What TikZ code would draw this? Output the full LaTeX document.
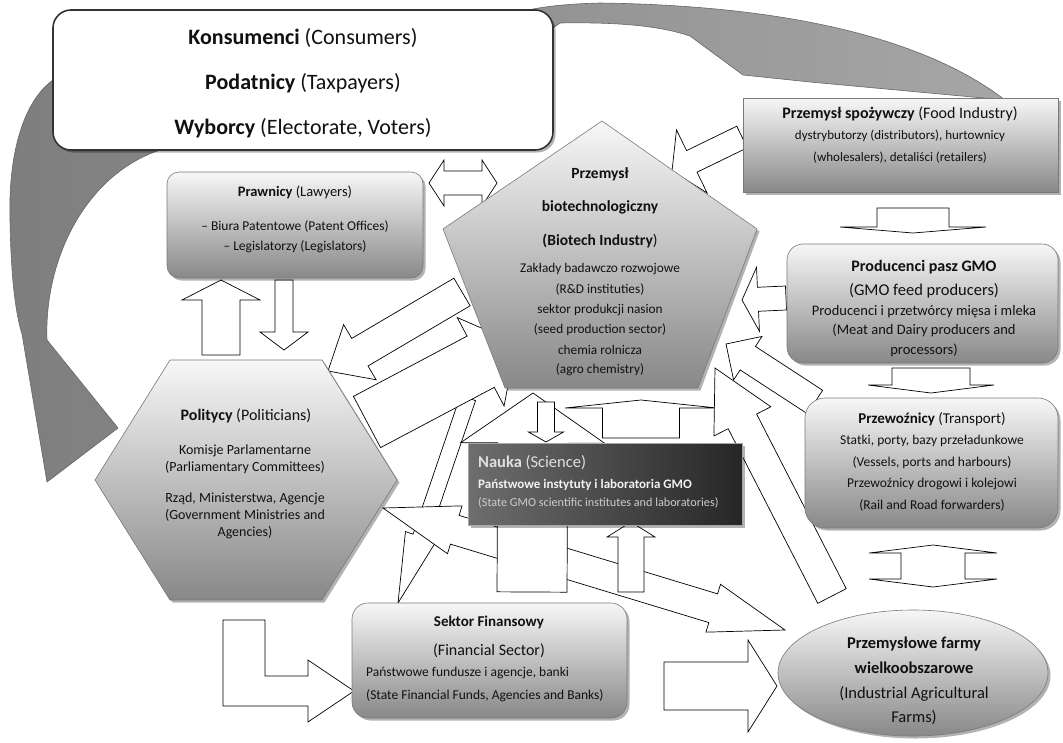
\documentclass[tikz,border=0pt]{standalone}
\usepackage{fontspec}
\setmainfont{Carlito}
\usetikzlibrary{calc,shadows}
\definecolor{edgec}{HTML}{7A7A7A}
\definecolor{gtop}{HTML}{F7F7F7}
\definecolor{gbot}{HTML}{888888}
\definecolor{nk1}{HTML}{6E6E6E}
\definecolor{nk2}{HTML}{262626}
\definecolor{bandL}{HTML}{7E7E7E}
\definecolor{bandR}{HTML}{A6A6A6}
\definecolor{tx}{HTML}{111111}

\newcommand\barrow[6]{%
 \coordinate (#1s) at #2; \coordinate (#1e) at #3;
 \coordinate (#1h) at ($(#1e)!#6pt!(#1s)$);
 \draw[blockarrow] ($(#1s)!#4pt!90:(#1e)$) -- ($(#1h)!#4pt!-90:(#1s)$) -- ($(#1h)!#5pt!-90:(#1s)$) -- (#1e) -- ($(#1h)!#5pt!90:(#1s)$) -- ($(#1h)!#4pt!90:(#1s)$) -- ($(#1s)!#4pt!-90:(#1e)$) -- cycle;}
\newcommand\dbarrow[6]{%
 \coordinate (#1s) at #2; \coordinate (#1e) at #3;
 \coordinate (#1h) at ($(#1s)!#6pt!(#1e)$);
 \coordinate (#1k) at ($(#1e)!#6pt!(#1s)$);
 \draw[blockarrow] (#1s) -- ($(#1h)!#5pt!90:(#1e)$) -- ($(#1h)!#4pt!90:(#1e)$) -- ($(#1k)!#4pt!-90:(#1s)$) -- ($(#1k)!#5pt!-90:(#1s)$) -- (#1e) -- ($(#1k)!#5pt!90:(#1s)$) -- ($(#1k)!#4pt!90:(#1s)$) -- ($(#1h)!#4pt!-90:(#1e)$) -- ($(#1h)!#5pt!-90:(#1e)$) -- cycle;}
\newcommand\tl[4]{\node[txt,#3] (#1) at #2 {#4};}

\begin{document}
\begin{tikzpicture}[x=1pt,y=-1pt,
  blockarrow/.style={draw=black, fill=white, line width=0.7pt, line join=miter},
  band/.style={draw=black!60, line width=0.6pt, left color=bandL, right color=bandR},
  shad/.style={drop shadow={shadow xshift=2.5pt, shadow yshift=-2.5pt, fill=black, opacity=0.3}},
  gbox/.style={draw=edgec, line width=0.6pt, top color=gtop, bottom color=gbot, shad},
  kbox/.style={draw=black!80, line width=1.6pt, fill=white, rounded corners=18pt, shad},
  txt/.style={anchor=base, inner sep=0pt, text=tx},
  fs/.style={font=\fontsize{#1}{#1}\selectfont}]
\fill[white] (0,0) rectangle (1063,742);
\useasboundingbox (0,0) rectangle (1063,742);

% big curved band arrow
\draw[band] (1005,100) .. controls (940,50) and (820,6) .. (600,3)
  .. controls (560,4) and (530,8) .. (515,14) -- (120,40) -- (53,80)
  .. controls (25,100) and (8,150) .. (10,220)
  .. controls (11,280) and (16,315) .. (22,334)
  -- (47,482) -- (118,428) -- (47,340)
  .. controls (44,260) and (85,175) .. (160,150)
  -- (553,28) -- (560,23)
  .. controls (620,22) and (660,26) .. (690,36)
  -- (743,75) -- (810,82) -- cycle;

% consumers box
\node[kbox, minimum width=500, minimum height=140] (kons) at (303,80) {};
\tl{kons1}{(303,44.6)}{fs=22}{\textbf{Konsumenci} (Consumers)}
\tl{kons2}{(303,89.6)}{fs=22}{\textbf{Podatnicy} (Taxpayers)}
\tl{kons3}{(303,134.6)}{fs=22}{\textbf{Wyborcy} (Electorate, Voters)}

% block arrows (back to front)
\barrow{g}{(468,398)}{(398,603)}{8}{16}{70}
\dbarrow{f}{(383,508)}{(785,630)}{15}{25}{75}
\barrow{bu}{(532,592)}{(533,393)}{35}{72}{50}
\barrow{su}{(631,592)}{(631,522)}{13}{24}{15}
\barrow{sd}{(546,402)}{(546,442)}{8.5}{17.5}{10}
\barrow{hh}{(641,438)}{(641,400)}{38.5}{76}{8}
\barrow{ea}{(832,596)}{(715,368)}{16}{32}{60}
\barrow{eb}{(815,402)}{(726,344)}{14}{26}{26}
\barrow{ec}{(786,298)}{(742,300)}{12}{32}{16}
\barrow{bp}{(462,292)}{(328,371)}{16}{32}{37}
\barrow{pb}{(367,422)}{(516,343)}{29}{50}{40}
\dbarrow{lb}{(429,183)}{(497,183)}{12}{23}{15}
\barrow{fb}{(742,137)}{(672,171)}{12}{35}{22}
\barrow{fp}{(913,208)}{(913,233)}{36}{73}{6}
\barrow{pt}{(931,368)}{(931,393)}{39}{63}{8}
\dbarrow{tf}{(933,545)}{(933,587)}{32}{64}{8}
\barrow{up}{(221,355)}{(221,280)}{19}{39}{20}
\barrow{dn}{(284,280)}{(284,350)}{9}{24}{18}
\barrow{ff}{(664,686)}{(777,686)}{24}{46}{29}
\coordinate (bs) at (244,620); \coordinate (be) at (354,691);
\draw[blockarrow] (223,620) -- (265,620) -- (265,676) -- (308,676) -- (308,660)
  -- (be) -- (308,722) -- (308,706) -- (223,706) -- cycle;

% Prawnicy
\node[gbox, rounded corners=12pt, minimum width=256, minimum height=106] (praw) at (295,225) {};
\tl{praw1}{(295,196.5)}{fs=14.5}{\textbf{Prawnicy} (Lawyers)}
\tl{praw2}{(295,230.5)}{fs=13.5}{– Biura Patentowe (Patent Offices)}
\tl{praw3}{(295,250.5)}{fs=13.5}{– Legislatorzy (Legislators)}

% Biotech pentagon
\draw[gbox] (602,121) -- (757,229) -- (698,388) -- (505,388) -- (443,229) -- cycle;
\tl{bio1}{(600,178)}{fs=15.5}{\textbf{Przemysł}}
\tl{bio2}{(600,211)}{fs=15.5}{\textbf{biotechnologiczny}}
\tl{bio3}{(600,245)}{fs=15.5}{\textbf{(Biotech Industry})}
\tl{bio4}{(600,272)}{fs=13.3}{Zakłady badawczo rozwojowe}
\tl{bio5}{(600,293)}{fs=13.3}{(R\&D instituties)}
\tl{bio6}{(600,313)}{fs=13.3}{sektor produkcji nasion}
\tl{bio7}{(600,333)}{fs=13.3}{(seed production sector)}
\tl{bio8}{(600,354)}{fs=13.3}{chemia rolnicza}
\tl{bio9}{(600,373)}{fs=13.3}{(agro chemistry)}

% Food industry
\node[gbox, minimum width=315, minimum height=94] (food) at (900.5,145) {};
\tl{food1}{(900,118)}{fs=16}{\textbf{Przemysł spożywczy} (Food Industry)}
\tl{food2}{(900,139)}{fs=13}{dystrybutorzy (distributors), hurtownicy}
\tl{food3}{(900,161)}{fs=13}{(wholesalers), detaliści (retailers)}

% Producenci pasz
\node[gbox, rounded corners=16pt, minimum width=271, minimum height=119] (pasz) at (922.5,303.5) {};
\tl{pasz1}{(924,271)}{fs=16}{\textbf{Producenci pasz GMO}}
\tl{pasz2}{(924,295.5)}{fs=16.5}{(GMO feed producers)}
\tl{pasz3}{(924,315.5)}{fs=14.5}{Producenci i przetwórcy mięsa i mleka}
\tl{pasz4}{(924,334.5)}{fs=14.5}{(Meat and Dairy producers and}
\tl{pasz5}{(924,354.5)}{fs=14.5}{processors)}

% Przewoznicy
\node[gbox, rounded corners=20pt, minimum width=253, minimum height=130] (trans) at (931.5,463) {};
\tl{tr1}{(932,423)}{fs=15}{\textbf{Przewoźnicy} (Transport)}
\tl{tr2}{(932,444)}{fs=13.5}{Statki, porty, bazy przeładunkowe}
\tl{tr3}{(932,466)}{fs=13.5}{(Vessels, ports and harbours)}
\tl{tr4}{(932,487)}{fs=13.5}{Przewoźnicy drogowi i kolejowi}
\tl{tr5}{(932,509)}{fs=13.5}{(Rail and Road forwarders)}

% Politycy hexagon
\draw[gbox] (170,360) -- (322,360) -- (397,480) -- (322,600) -- (170,600) -- (95,480) -- cycle;
\tl{pol1}{(246,420)}{fs=16}{\textbf{Politycy} (Politicians)}
\tl{pol2}{(245,454)}{fs=14}{Komisje Parlamentarne}
\tl{pol3}{(245,471)}{fs=14}{(Parliamentary Committees)}
\tl{pol4}{(245,502)}{fs=14}{Rząd, Ministerstwa, Agencje}
\tl{pol5}{(245,519)}{fs=14}{(Government Ministries and}
\tl{pol6}{(245,536)}{fs=14}{Agencies)}

% Nauka
\node[draw=gray!70, line width=0.6pt, left color=nk1, right color=nk2, shad,
  minimum width=274, minimum height=82] (nauka) at (605,484) {};
\tl{nk1}{(478,467)}{fs=16.5, anchor=base west, text=black!12}{\textbf{Nauka} (Science)}
\tl{nk2}{(478,488)}{fs=13, anchor=base west, text=black!5}{\textbf{Państwowe instytuty i laboratoria GMO}}
\tl{nk3}{(478,506)}{fs=12.2, anchor=base west, text=black!20}{(State GMO scientific institutes and laboratories)}

% Sektor Finansowy
\node[gbox, rounded corners=16pt, minimum width=275, minimum height=115] (fin) at (489.5,660.5) {};
\tl{fin1}{(489,626.5)}{fs=15}{\textbf{Sektor Finansowy}}
\tl{fin2}{(489,655)}{fs=16}{(Financial Sector)}
\tl{fin3}{(366,676.5)}{fs=13.5, anchor=base west}{Państwowe fundusze i agencje, banki}
\tl{fin4}{(366,699.5)}{fs=13.5, anchor=base west}{(State Financial Funds, Agencies and Banks)}

% Farms ellipse
\draw[gbox] (913,673) ellipse [x radius=135, y radius=63];
\tl{farm1}{(914,648)}{fs=16.5}{\textbf{Przemysłowe farmy}}
\tl{farm2}{(914,673)}{fs=16.5}{\textbf{wielkoobszarowe}}
\tl{farm3}{(914,698)}{fs=16.5}{(Industrial Agricultural}
\tl{farm4}{(914,722)}{fs=16.5}{Farms)}
\end{tikzpicture}
\end{document}
